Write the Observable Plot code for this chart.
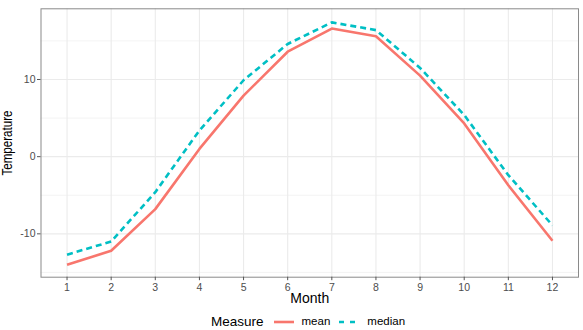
<!DOCTYPE html>
<html>
<head>
<meta charset="utf-8">
<script src="https://cdn.jsdelivr.net/npm/d3@7"></script>
<script src="https://cdn.jsdelivr.net/npm/@observablehq/plot@0.6"></script>
<style>
  html, body { margin: 0; padding: 0; background: #fff; overflow: hidden; }
  #wrap { position: relative; width: 583px; height: 330px; font-family: "Liberation Sans", Arial, sans-serif; }
  #legend { position: absolute; left: 211px; top: 313px; height: 18px; display: flex; align-items: center; white-space: nowrap; line-height: 1; }
  #legend .title { font-size: 13.5px; color: #000; margin-right: 10px; }
  #legend .key { display: block; margin-right: 8px; }
  #legend .lab { font-size: 11.5px; color: #000; margin-right: 9px; }
</style>
</head>
<body>
<div id="wrap"></div>
<script>
// Monthly temperature summary
const months = [1, 2, 3, 4, 5, 6, 7, 8, 9, 10, 11, 12];
const meanTemp = [-14.0, -12.2, -6.8, 1.0, 7.9, 13.6, 16.6, 15.6, 10.5, 4.3, -3.7, -10.9];
const medianTemp = [-12.7, -11.0, -4.6, 3.4, 9.9, 14.6, 17.4, 16.4, 11.5, 5.4, -2.4, -8.9];
const measures = ["mean", "median"];
const measureColors = ["#F8766D", "#00BFC4"];
const measureDash = [null, "6,4"];
const yMajor = [-10, 0, 10];
const yMinor = [-15, -5, 5, 15];

const rows = (vals, m) => months.map((mo, i) => ({month: mo, value: vals[i], measure: m}));
const meanRows = rows(meanTemp, "mean");
const medianRows = rows(medianTemp, "median");

const font = "Liberation Sans, Arial, sans-serif";

const chart = Plot.plot({
  width: 583,
  height: 316,
  marginLeft: 40.5,
  marginRight: 5,
  marginTop: 8.3,
  marginBottom: 39.3,
  style: {fontFamily: font, background: "#fff"},
  x: {domain: [0.41, 12.59]},
  y: {domain: [-15.62, 19.16]},
  color: {domain: measures, range: measureColors},
  marks: [
    Plot.ruleY(yMinor, {stroke: "#EBEBEB", strokeWidth: 0.6}),
    Plot.ruleY(yMajor, {stroke: "#EBEBEB", strokeWidth: 1.1}),
    Plot.ruleX(months, {stroke: "#EBEBEB", strokeWidth: 1.1}),
    Plot.line(meanRows, {x: "month", y: "value", stroke: measureColors[0], strokeWidth: 2.6, strokeLinecap: "butt", strokeLinejoin: "round"}),
    Plot.line(medianRows, {x: "month", y: "value", stroke: measureColors[1], strokeWidth: 2.6, strokeDasharray: measureDash[1], strokeLinecap: "butt", strokeLinejoin: "round"}),
    Plot.frame({stroke: "#8a8a8a", strokeWidth: 1}),
    Plot.axisX(months, {label: null, tickSize: 3.5, tickPadding: 3, fontSize: 10.5, color: "#4D4D4D", stroke: "#555", tickFormat: d => String(d)}),
    Plot.axisY(yMajor, {label: null, tickSize: 3.5, tickPadding: 2, fontSize: 10.5, color: "#4D4D4D", stroke: "#555", tickFormat: d => String(d)}),
    Plot.text(["Month"], {frameAnchor: "bottom", dy: 21, lineAnchor: "middle", textAnchor: "middle", fontSize: 14, fill: "#000"}),
    Plot.text(["Temperature"], {frameAnchor: "left", dx: -33.5, rotate: -90, lineAnchor: "middle", textAnchor: "middle", fontSize: 14, fill: "#000", className: "ytitle"})
  ]
});

// Narrow the vertical axis title
d3.select(chart).selectAll(".ytitle text").attr("textLength", 65).attr("lengthAdjust", "spacingAndGlyphs");

const wrap = document.getElementById("wrap");
wrap.appendChild(chart);

// Legend for the two measures
const legend = document.createElement("div");
legend.id = "legend";
const title = document.createElement("span");
title.className = "title";
title.textContent = "Measure";
legend.appendChild(title);
measures.forEach((m, i) => {
  const key = d3.create("svg").attr("class", "key").attr("width", 20).attr("height", 12);
  key.append("line").attr("x1", 0).attr("x2", 20).attr("y1", 6).attr("y2", 6)
    .attr("stroke", measureColors[i]).attr("stroke-width", 2.6)
    .attr("stroke-dasharray", measureDash[i] ? "5,6" : null);
  legend.appendChild(key.node());
  const lab = document.createElement("span");
  lab.className = "lab";
  lab.textContent = m;
  legend.appendChild(lab);
});
wrap.appendChild(legend);
</script>
</body>
</html>
